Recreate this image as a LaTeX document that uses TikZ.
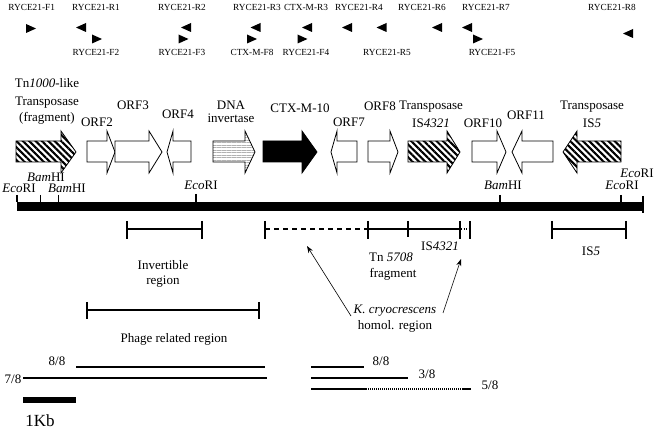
\documentclass[tikz,border=0pt]{standalone}
\usepackage{fontspec}
\setmainfont{Liberation Serif}
\usetikzlibrary{patterns.meta,arrows.meta}
\newcommand{\geneR}[4][]{\draw[genebox,#1] (#2,141) -- (#3,141) -- (#3,131) -- (#4,152) -- (#3,173) -- (#3,162) -- (#2,162) -- cycle;}
\newcommand{\geneL}[4][]{\draw[genebox,#1] (#2,152) -- (#3,131) -- (#3,141) -- (#4,141) -- (#4,162) -- (#3,162) -- (#3,173) -- cycle;}
\newcommand{\pfwd}[2]{\fill[shift={(#1,#2)}] (-5,-4.5) -- (5,0) -- (-5,4.5) -- cycle;}
\newcommand{\prev}[2]{\fill[shift={(#1,#2)}] (5,-4.5) -- (-5,0) -- (5,4.5) -- cycle;}
\begin{document}
\begin{tikzpicture}[x=1pt,y=-1pt,
  lab/.style={font=\fontsize{13}{15}\selectfont, inner sep=0pt, anchor=base},
  prim/.style={font=\fontsize{9.3}{11}\selectfont, inner sep=0pt, anchor=base},
  genebox/.style={draw=black, line width=0.8pt, fill=white, line join=miter},
  hatch/.style={pattern={Lines[angle=-45,distance=4.5pt,line width=2.1pt]}},
  stripe/.style={pattern={Lines[angle=0,distance=2.5pt,line width=0.5pt]}, pattern color=gray!60},
  tick/.style={line width=1.3pt},
  brline/.style={line width=1.5pt},
  seqline/.style={line width=1.5pt},
  pointer/.style={line width=0.6pt, -{Stealth[length=7pt,width=5pt]}}]
\useasboundingbox (0,0) rectangle (664,430);

% primer labels
\node[prim] (lF1) at (31.7,11) {RYCE21-F1};
\node[prim] (lR1) at (96,11) {RYCE21-R1};
\node[prim] (lR2) at (182,11) {RYCE21-R2};
\node[prim] (lR3) at (257,11) {RYCE21-R3};
\node[prim] (lCR3) at (306,11) {CTX-M-R3};
\node[prim] (lR4) at (359,11) {RYCE21-R4};
\node[prim] (lR6) at (422,11) {RYCE21-R6};
\node[prim] (lR7) at (486,11) {RYCE21-R7};
\node[prim] (lR8) at (612,11) {RYCE21-R8};
\node[prim] (lF2) at (96,56) {RYCE21-F2};
\node[prim] (lF3) at (182,56) {RYCE21-F3};
\node[prim] (lCF8) at (252,56) {CTX-M-F8};
\node[prim] (lF4) at (306,56) {RYCE21-F4};
\node[prim] (lR5) at (387,56) {RYCE21-R5};
\node[prim] (lF5) at (492,56) {RYCE21-F5};

% primer triangles
\pfwd{31}{28.5}
\pfwd{97}{39}
\pfwd{183.5}{39}
\pfwd{252}{39}
\pfwd{302.5}{39}
\pfwd{478}{39}
\prev{81}{27.5}
\prev{186}{27.5}
\prev{255.5}{27.5}
\prev{307}{27.5}
\prev{347}{27.5}
\prev{381.5}{27.5}
\prev{437}{27.5}
\prev{467}{27.5}
\prev{628}{33.5}

% gene labels
\node[lab] (tn1) at (47,88) {Tn\textit{1000}-like};
\node[lab] (tn2) at (47,106) {Transposase};
\node[lab] (tn3) at (47,121.5) {(fragment)};
\node[lab] (orf2) at (97,127) {ORF2};
\node[lab] (orf3) at (133,110) {ORF3};
\node[lab] (orf4) at (178,119) {ORF4};
\node[lab] (dna1) at (231,110) {DNA};
\node[lab] (dna2) at (231,123) {invertase};
\node[lab] (ctx) at (300,113) {CTX-M-10};
\node[lab] (orf7) at (349,127) {ORF7};
\node[lab] (orf8) at (380,111) {ORF8};
\node[lab] (tpa1) at (431,110) {Transposase};
\node[lab] (tpa2) at (431,128) {IS\textit{4321}};
\node[lab] (orf10) at (483,128) {ORF10};
\node[lab] (orf11) at (526,120) {ORF11};
\node[lab] (tpb1) at (592,110) {Transposase};
\node[lab] (tpb2) at (592,128) {IS\textit{5}};

% gene arrows
\geneR[hatch]{16}{61}{76}
\geneR{87}{107}{115}
\geneR{115}{149}{162}
\geneL{167}{173}{191}
\geneR[stripe]{213}{245}{255}
\geneR[fill=black]{263}{302}{317}
\geneL{331}{337}{357}
\geneR{368}{390}{398}
\geneR[hatch]{408}{447}{460}
\geneR{472}{497}{506}
\geneL{512}{522}{553}
\geneL[hatch]{563}{577}{621}

% restriction map
\fill (17,202) rectangle (643,211);
\draw[tick] (17,195) -- (17,202);
\draw[tick] (40.7,195) -- (40.7,202);
\draw[tick] (58.3,195) -- (58.3,202);
\draw[tick] (196,194) -- (196,202);
\draw[tick] (500,195) -- (500,202);
\draw[tick] (621,195) -- (621,202);
\draw[tick] (643,196) -- (643,213);
\node[lab] (e1) at (19,193) {\textit{Eco}RI};
\node[lab] (b1) at (46,182) {\textit{Bam}HI};
\node[lab] (b2) at (67,193) {\textit{Bam}HI};
\node[lab] (e2) at (201,190) {\textit{Eco}RI};
\node[lab] (b3) at (503,190) {\textit{Bam}HI};
\node[lab] (e3) at (622,190) {\textit{Eco}RI};
\node[lab] (e4) at (637,178) {\textit{Eco}RI};

% region brackets
\draw[brline] (127,229) -- (202,229);
\draw[brline] (127,221) -- (127,239);
\draw[brline] (202,221) -- (202,239);
\draw[brline, dash pattern=on 5pt off 4pt] (265,229) -- (368,229);
\draw[brline] (265,221) -- (265,239);
\draw[brline] (368,229) -- (460,229);
\draw[brline] (368,221) -- (368,239);
\draw[brline] (408,221) -- (408,237);
\draw[brline] (460,221) -- (460,239);
\draw[line width=1.2pt, dash pattern=on 1pt off 1.5pt] (461,229) -- (469,229);
\draw[brline] (470,221) -- (470,239);
\draw[brline] (552,229) -- (626,229);
\draw[brline] (552,221) -- (552,239);
\draw[brline] (626,221) -- (626,239);

\node[lab] (inv1) at (163,270) {Invertible};
\node[lab] (inv2) at (163,284.5) {region};
\node[lab] (is4321) at (440,251) {IS\textit{4321}};
\node[lab] (tn57a) at (391,262) {Tn \textit{5708}};
\node[lab] (tn57b) at (393,277.5) {fragment};
\node[lab] (is5) at (591,256) {IS\textit{5}};
\node[lab] (kc1) at (395,314) {\textit{K. cryocrescens}};
\node[lab] (kc2) at (395,330) {homol. region};

\coordinate (ka) at (351,316);
\coordinate (kat) at (307,246);
\coordinate (kb) at (443,313);
\coordinate (kbt) at (461,259);
\draw[pointer] (ka) -- (kat);
\draw[pointer] (kb) -- (kbt);

\draw[brline] (87,310) -- (259,310);
\draw[brline] (87,302) -- (87,319);
\draw[brline] (259,302) -- (259,319);
\node[lab] (phage) at (174,342) {Phage related region};

% homology lines
\draw[seqline] (76,367) -- (265,367);
\draw[seqline] (23,378) -- (267,378);
\node[lab] (n88a) at (57,366) {8/8};
\node[lab] (n78) at (13,383) {7/8};
\draw[seqline] (311,367) -- (364,367);
\draw[seqline] (311,378) -- (408,378);
\draw[seqline] (311,389) -- (366,389);
\draw[line width=1.2pt, dash pattern=on 1pt off 1pt] (366,389) -- (462,389);
\draw[seqline] (462,389) -- (471,389);
\node[lab] (n88b) at (381,366) {8/8};
\node[lab] (n38) at (427,378) {3/8};
\node[lab] (n58) at (490,389) {5/8};

% scale bar
\fill (23,397) rectangle (76,403);
\node[lab, font=\fontsize{17}{19}\selectfont] (kb1) at (40,426) {1Kb};
\end{tikzpicture}
\end{document}
